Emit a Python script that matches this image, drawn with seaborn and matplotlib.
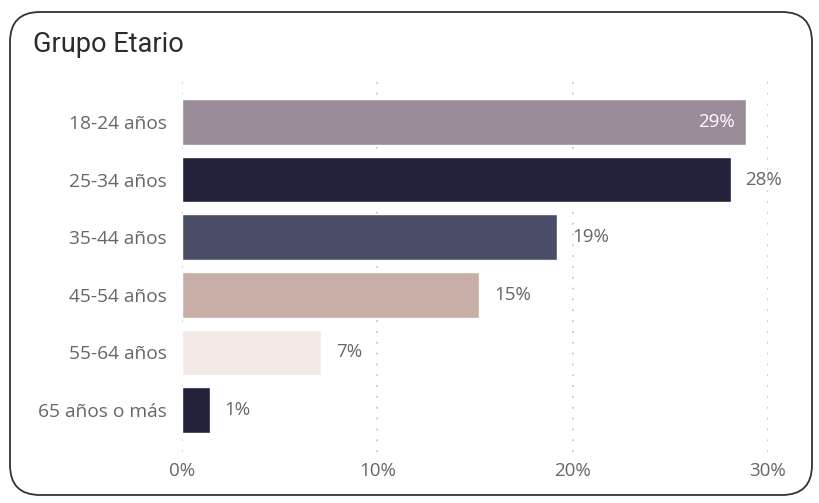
import matplotlib
matplotlib.use("Agg")
import matplotlib.pyplot as plt
import seaborn as sns
import pandas as pd
from matplotlib.patches import FancyBboxPatch
from matplotlib.ticker import FuncFormatter
import matplotlib.transforms as mtransforms

categories = ["18-24 años", "25-34 años", "35-44 años", "45-54 años", "55-64 años", "65 años o más"]
values = [28.9, 28.1, 19.2, 15.2, 7.1, 1.4]
labels = ["29%", "28%", "19%", "15%", "7%", "1%"]
colors = ["#9a8c98", "#22223b", "#4a4e69", "#c9ada7", "#f2e9e4", "#22223b"]
xticks = [0, 10, 20, 30]
title = "Grupo Etario"

sns.set_theme(style="white")
plt.rcParams["font.family"] = ["Open Sans", "DejaVu Sans"]

fig = plt.figure(figsize=(8.19, 5.03), dpi=100)
W, H = 819, 503
ax = fig.add_axes([182 / W, (H - 452) / H, (768 - 182) / W, (452 - 80) / H])

df = pd.DataFrame({"cat": categories, "val": values})
sns.barplot(data=df, y="cat", x="val", hue="cat", palette=colors, legend=False,
            orient="h", width=0.79, ax=ax, saturation=1)

ax.set_xlim(-0.02, 30.02)
ax.set_ylim(5.73, -0.73)
ax.set_xticks(xticks)
ax.xaxis.set_major_formatter(FuncFormatter(lambda v, p: f"{v:.0f}%"))
ax.grid(axis="x", linestyle=(0, (1, 5)), color="#c8c8c8", linewidth=1.3)
ax.set_axisbelow(True)
for s in ax.spines.values():
    s.set_visible(False)
ax.set_xlabel("")
ax.set_ylabel("")
ax.tick_params(axis="both", length=0, colors="#666666")
ax.tick_params(axis="y", pad=11, labelsize=13.8)
ax.tick_params(axis="x", pad=7, labelsize=13.5)

off = mtransforms.offset_copy(ax.transData, fig=fig, x=15, y=0, units="dots")
inside = mtransforms.offset_copy(ax.transData, fig=fig, x=-11, y=0, units="dots")
for i, (v, lab) in enumerate(zip(values, labels)):
    if i == 0:
        ax.text(v, i, lab, transform=inside, ha="right", va="center",
                fontsize=13.5, color="white")
    else:
        ax.text(v, i, lab, transform=off, ha="left", va="center",
                fontsize=13.5, color="#666666")

fig.text(33 / W, 1 - 44 / H, title, fontsize=19.5, color="#2b2b2b",
         ha="left", va="center", family=["Roboto", "DejaVu Sans"])

box = FancyBboxPatch((0.10, 0.08), 8.02, 4.83,
                     boxstyle="round,pad=0,rounding_size=0.3",
                     transform=fig.dpi_scale_trans, fill=False,
                     edgecolor="#333333", linewidth=1.3)
fig.patches.append(box)

fig.savefig("out.png", dpi=100)
